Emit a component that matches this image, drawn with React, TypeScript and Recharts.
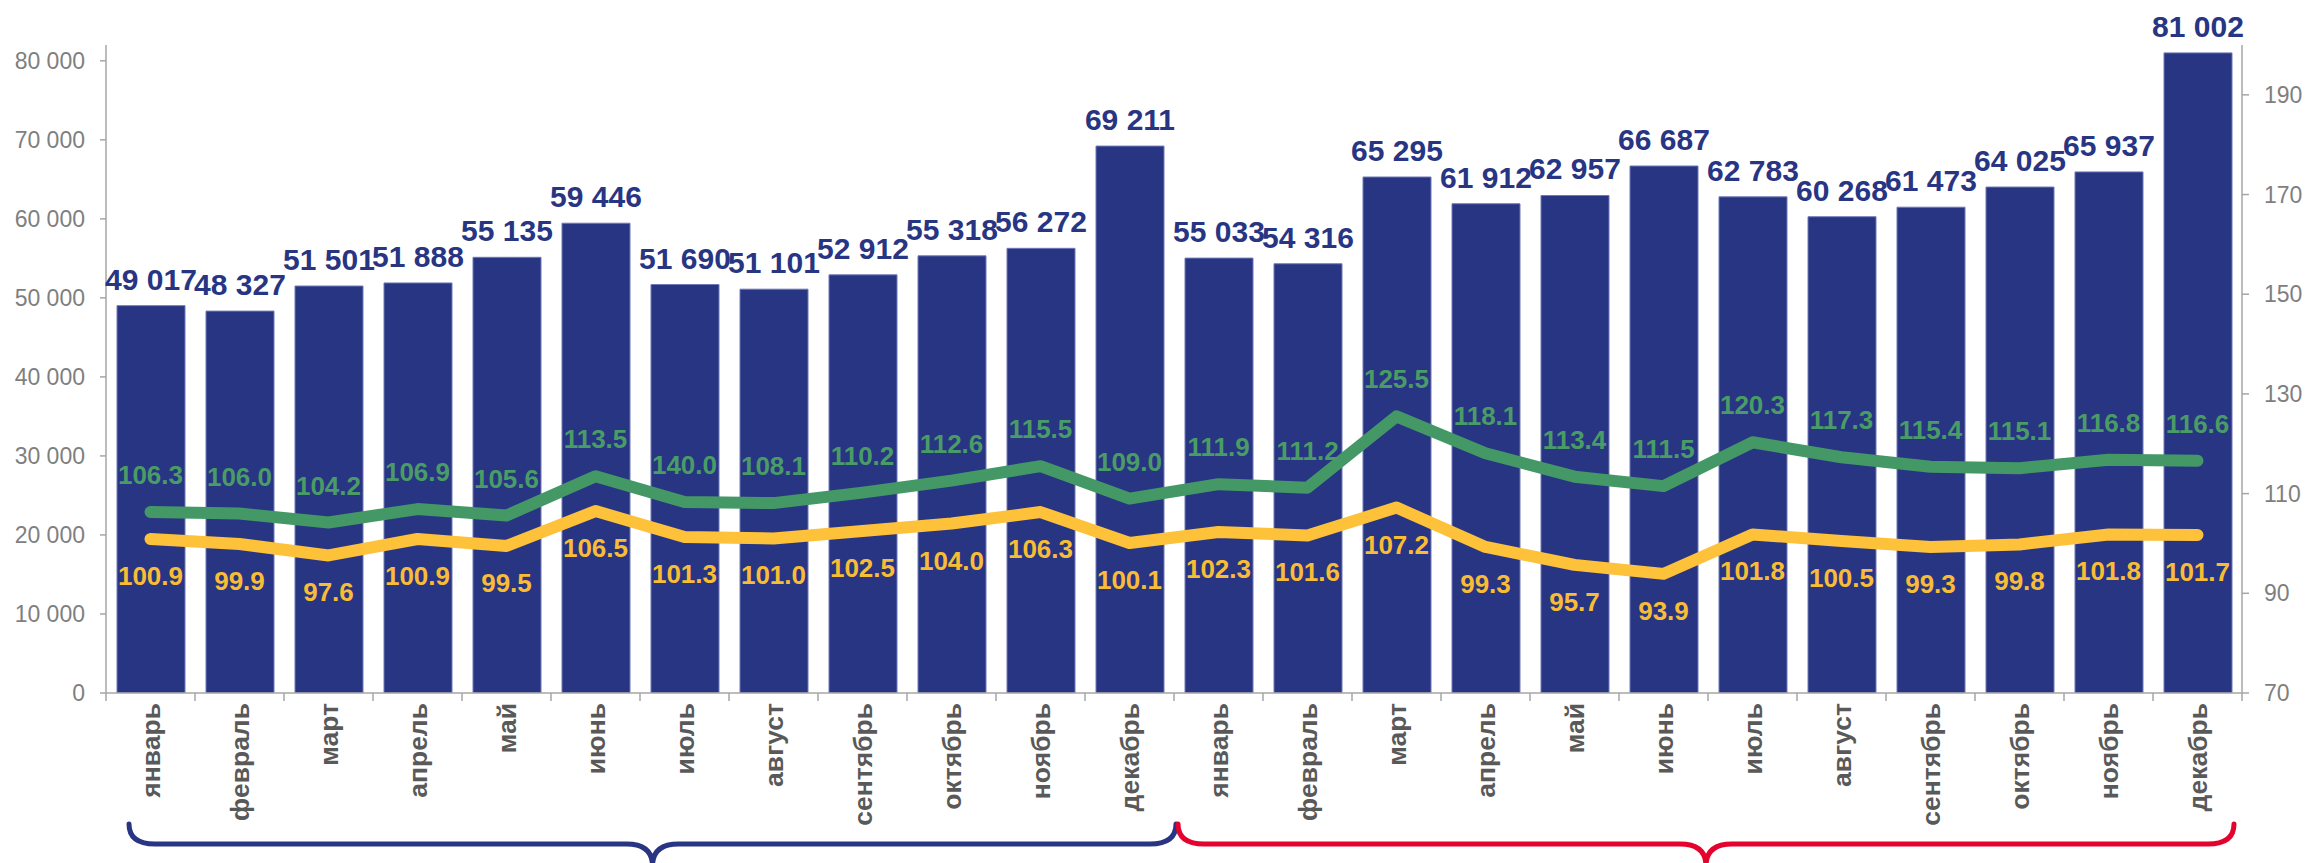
import React from 'react';
import { ComposedChart, Bar, Line, XAxis, YAxis, LabelList } from 'recharts';

const monthNames = ['январь', 'февраль', 'март', 'апрель', 'май', 'июнь', 'июль', 'август', 'сентябрь', 'октябрь', 'ноябрь', 'декабрь'];
const categories = [...monthNames, ...monthNames];

const volume = [49017, 48327, 51501, 51888, 55135, 59446, 51690, 51101, 52912, 55318, 56272, 69211,
  55033, 54316, 65295, 61912, 62957, 66687, 62783, 60268, 61473, 64025, 65937, 81002];

const greenIndex = [106.3, 106.0, 104.2, 106.9, 105.6, 113.5, 108.3, 108.1, 110.2, 112.6, 115.5, 109.0,
  111.9, 111.2, 125.5, 118.1, 113.4, 111.5, 120.3, 117.3, 115.4, 115.1, 116.8, 116.6];
const greenLabels = ['106.3', '106.0', '104.2', '106.9', '105.6', '113.5', '140.0', '108.1', '110.2', '112.6', '115.5', '109.0',
  '111.9', '111.2', '125.5', '118.1', '113.4', '111.5', '120.3', '117.3', '115.4', '115.1', '116.8', '116.6'];

const yellowIndex = [100.9, 99.9, 97.6, 100.9, 99.5, 106.5, 101.3, 101.0, 102.5, 104.0, 106.3, 100.1,
  102.3, 101.6, 107.2, 99.3, 95.7, 93.9, 101.8, 100.5, 99.3, 99.8, 101.8, 101.7];
const yellowLabels = ['100.9', '99.9', '97.6', '100.9', '99.5', '106.5', '101.3', '101.0', '102.5', '104.0', '106.3', '100.1',
  '102.3', '101.6', '107.2', '99.3', '95.7', '93.9', '101.8', '100.5', '99.3', '99.8', '101.8', '101.7'];

const leftTicks = [0, 10000, 20000, 30000, 40000, 50000, 60000, 70000, 80000];
const rightTicks = [70, 90, 110, 130, 150, 170, 190];

const fmtThousands = (v: number) => String(v).replace(/\B(?=(\d{3})+(?!\d))/g, ' ');

const data = categories.map((m, i) => ({
  id: i,
  month: m,
  volume: volume[i],
  volumeLabel: fmtThousands(volume[i]),
  green: greenIndex[i],
  greenLabel: greenLabels[i],
  yellow: yellowIndex[i],
  yellowLabel: yellowLabels[i],
}));

const W = 2308;
const H = 863;
const PLOT_LEFT = 106;
const PLOT_RIGHT = 2242;
const PLOT_TOP = 45;
const PLOT_BOTTOM = 693;
const BAND = (PLOT_RIGHT - PLOT_LEFT) / categories.length;

const FONT = '"Liberation Sans", Arial, sans-serif';
const AXIS = '#a6a6a6';
const TICK_TEXT = '#7f7f7f';
const BAR = '#283583';
const GREEN = '#449866';
const GREEN_TEXT = '#4a9c66';
const YELLOW = '#fec13a';
const YELLOW_TEXT = '#f9bd35';
const RED = '#e4032e';

const MonthTick = (props: any) => {
  const { x, y, payload } = props;
  const i = Number(payload.value);
  const left = x - BAND / 2;
  const ty = y + 10;
  return (
    <g>
      <line x1={left} y1={y} x2={left} y2={y + 8} stroke={AXIS} strokeWidth={1.5} />
      {i === categories.length - 1 && (
        <line x1={x + BAND / 2} y1={y} x2={x + BAND / 2} y2={y + 8} stroke={AXIS} strokeWidth={1.5} />
      )}
      <text
        x={x}
        y={ty}
        transform={`rotate(-90 ${x} ${ty})`}
        textAnchor="end"
        dy="0.36em"
        fontFamily={FONT}
        fontWeight="bold"
        fontSize={26.5}
        fill="#595959"
      >
        {categories[i]}
      </text>
    </g>
  );
};

const BarLabel = (p: any) => (
  <text x={p.x + p.width / 2} y={p.y - 16} textAnchor="middle" fontFamily={FONT} fontWeight="bold" fontSize={30} fill={BAR}>
    {p.value}
  </text>
);

const GreenLabel = (p: any) => (
  <text x={p.x} y={p.y - 28} textAnchor="middle" fontFamily={FONT} fontWeight="bold" fontSize={26} fill={GREEN_TEXT}>
    {p.value}
  </text>
);

const YellowLabel = (p: any) => (
  <text x={p.x} y={p.y + 46} textAnchor="middle" fontFamily={FONT} fontWeight="bold" fontSize={26} fill={YELLOW_TEXT}>
    {p.value}
  </text>
);

const bracePath = (x0: number, x1: number) => {
  const xm = (x0 + x1) / 2;
  const top = 824;
  const mid = 844;
  const bottom = 866;
  return `M ${x0} ${top} Q ${x0} ${mid} ${x0 + 26} ${mid} L ${xm - 26} ${mid} Q ${xm} ${mid} ${xm} ${bottom} Q ${xm} ${mid} ${xm + 26} ${mid} L ${x1 - 26} ${mid} Q ${x1} ${mid} ${x1} ${top}`;
};

export default function App() {
  return (
    <div style={{ position: 'absolute', left: 0, top: 0, width: W, height: H, background: '#fff' }}>
      <ComposedChart
        width={W}
        height={H}
        data={data}
        margin={{ top: PLOT_TOP, right: 0, bottom: 0, left: 0 }}
      >
        <XAxis
          dataKey="id"
          type="category"
          interval={0}
          height={H - PLOT_BOTTOM}
          tickLine={false}
          tickSize={0}
          tickMargin={0}
          axisLine={{ stroke: AXIS, strokeWidth: 1.5 }}
          tick={<MonthTick />}
        />
        <YAxis
          yAxisId="left"
          orientation="left"
          width={PLOT_LEFT}
          domain={[0, 82000]}
          ticks={leftTicks}
          allowDataOverflow
          tickFormatter={(v: number) => fmtThousands(v)}
          tick={{ fill: TICK_TEXT, fontSize: 23, fontFamily: FONT }}
          tickLine={{ stroke: AXIS, strokeWidth: 1.5 }}
          tickSize={6}
          tickMargin={15}
          axisLine={{ stroke: AXIS, strokeWidth: 1.5 }}
        />
        <YAxis
          yAxisId="right"
          orientation="right"
          width={W - PLOT_RIGHT}
          domain={[70, 200]}
          ticks={rightTicks}
          allowDataOverflow
          tick={{ fill: TICK_TEXT, fontSize: 23, fontFamily: FONT }}
          tickLine={{ stroke: AXIS, strokeWidth: 1.5 }}
          tickSize={7}
          tickMargin={15}
          axisLine={{ stroke: AXIS, strokeWidth: 1.5 }}
        />
        <Bar yAxisId="left" dataKey="volume" barSize={68} fill={BAR} stroke="#6f78b5" strokeWidth={1} isAnimationActive={false}>
          <LabelList dataKey="volumeLabel" content={<BarLabel />} />
        </Bar>
        <Line
          yAxisId="right"
          dataKey="green"
          stroke={GREEN}
          strokeWidth={12}
          strokeLinecap="round"
          strokeLinejoin="round"
          dot={false}
          activeDot={false}
          isAnimationActive={false}
        >
          <LabelList dataKey="greenLabel" content={<GreenLabel />} />
        </Line>
        <Line
          yAxisId="right"
          dataKey="yellow"
          stroke={YELLOW}
          strokeWidth={12}
          strokeLinecap="round"
          strokeLinejoin="round"
          dot={false}
          activeDot={false}
          isAnimationActive={false}
        >
          <LabelList dataKey="yellowLabel" content={<YellowLabel />} />
        </Line>
      </ComposedChart>
      <svg width={W} height={H} style={{ position: 'absolute', left: 0, top: 0, pointerEvents: 'none' }}>
        <path d={bracePath(PLOT_LEFT + 23, PLOT_LEFT + BAND * 12 + 2)} fill="none" stroke={BAR} strokeWidth={5} strokeLinecap="round" />
        <path d={bracePath(PLOT_LEFT + BAND * 12 + 4, PLOT_RIGHT - 8)} fill="none" stroke={RED} strokeWidth={5} strokeLinecap="round" />
      </svg>
    </div>
  );
}
